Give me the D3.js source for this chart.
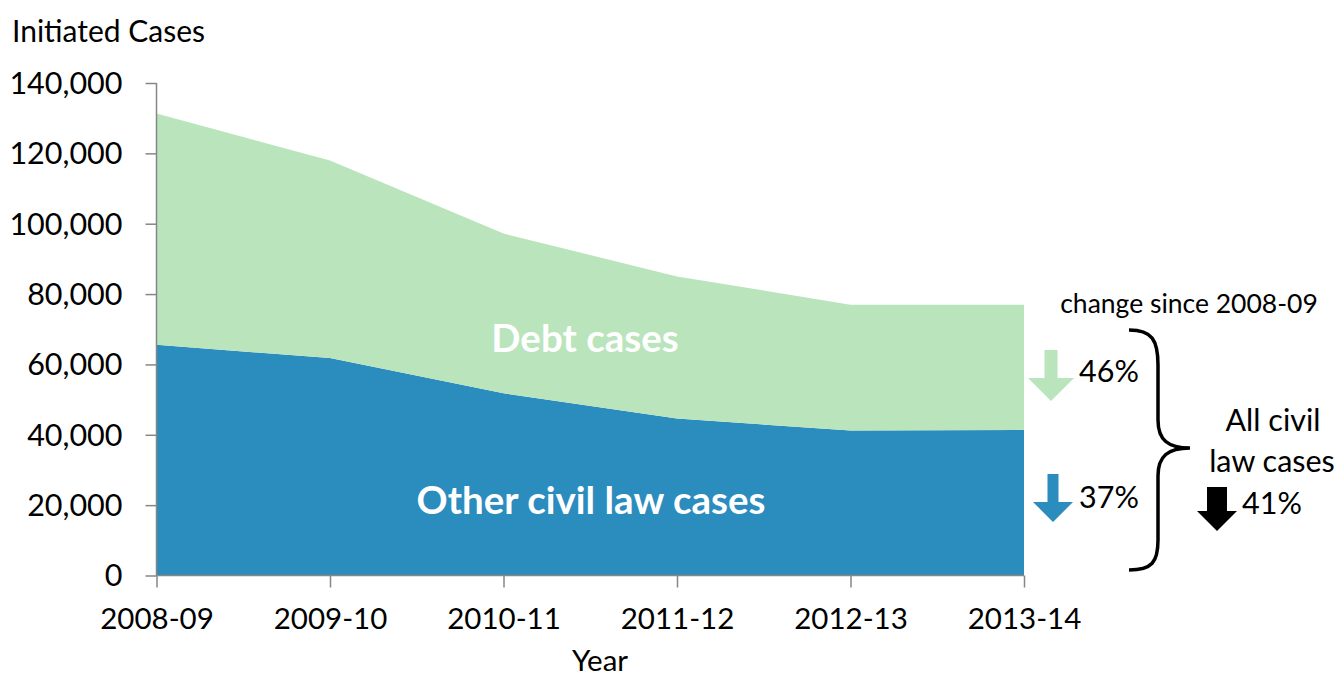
<!DOCTYPE html>
<html>
<head>
<meta charset="utf-8">
<script src="https://cdn.jsdelivr.net/npm/d3@7"></script>
<style>
  html, body { margin: 0; padding: 0; background: #fff; }
  svg { display: block; font-family: Lato, "Open Sans", sans-serif; }
</style>
</head>
<body>
<svg id="chart" width="1342" height="677"></svg>
<script>
const years = ["2008-09", "2009-10", "2010-11", "2011-12", "2012-13", "2013-14"];
const otherCases = [65600, 61800, 51800, 44600, 41200, 41400];
const debtCases = [65700, 56200, 45400, 40400, 35800, 35600];
const yTicks = [0, 20000, 40000, 60000, 80000, 100000, 120000, 140000];
const changeLabels = { debt: "46%", other: "37%", all: "41%" };

const colors = { other: "#2B8CBE", debt: "#BAE4BC", axis: "#868686" };

const svg = d3.select("#chart");
const x = d3.scalePoint().domain(years).range([156.5, 1024]);
const y = d3.scaleLinear().domain([0, 140000]).range([575.5, 83]);

const table = years.map((yr, i) => ({ year: yr, other: otherCases[i], debt: debtCases[i] }));
const stack = d3.stack().keys(["other", "debt"]);
const series = stack(table);

const area = d3.area()
  .x(d => x(d.data.year))
  .y0(d => y(d[0]))
  .y1(d => y(d[1]))
  .curve(d3.curveLinear);

svg.append("g").selectAll("path").data(series).join("path")
  .attr("d", area)
  .attr("fill", d => colors[d.key]);

// Y axis
const yAxis = d3.axisLeft(y).tickValues(yTicks).tickSize(11).tickPadding(23)
  .tickFormat(d3.format(","));
const gy = svg.append("g").attr("transform", "translate(156.5,0)").call(yAxis);
gy.select(".domain").attr("stroke", colors.axis).attr("stroke-width", 1.5).attr("d", "M0,83V575.5");
gy.selectAll(".tick line").attr("stroke", colors.axis).attr("stroke-width", 1.5);
gy.selectAll(".tick text").attr("font-size", 30.5).attr("fill", "#000")
  .attr("font-family", "Lato, sans-serif").attr("dy", "0.34em");

// X axis
const xAxis = d3.axisBottom(x).tickSize(12).tickPadding(21);
const gx = svg.append("g").attr("transform", "translate(0,575.5)").call(xAxis);
gx.select(".domain").attr("stroke", colors.axis).attr("stroke-width", 1.5).attr("d", "M156.5,0H1024");
gx.selectAll(".tick line").attr("stroke", colors.axis).attr("stroke-width", 1.5);
gx.selectAll(".tick text").attr("font-size", 29.5).attr("fill", "#000")
  .attr("font-family", "Lato, sans-serif");

// Axis titles
svg.append("text").attr("x", 12).attr("y", 42).attr("font-size", 30).text("Initiated Cases");
svg.append("text").attr("x", 600).attr("y", 671).attr("text-anchor", "middle").attr("font-size", 29.5).text("Year");

// Series labels
svg.append("text").attr("x", 585).attr("y", 352).attr("text-anchor", "middle")
  .attr("font-size", 38.5).attr("font-weight", "bold").attr("fill", "#fff").text("Debt cases");
svg.append("text").attr("x", 591).attr("y", 514).attr("text-anchor", "middle")
  .attr("font-size", 38.5).attr("font-weight", "bold").attr("fill", "#fff").text("Other civil law cases");

// Change annotations
svg.append("text").attr("x", 1189).attr("y", 313).attr("text-anchor", "middle")
  .attr("font-size", 26.5).text("change since 2008-09");

function arrow(cx, top, headTop, tip, shaftHalf, headHalf, fill) {
  const pts = [
    [cx - shaftHalf, top], [cx + shaftHalf, top], [cx + shaftHalf, headTop],
    [cx + headHalf, headTop], [cx, tip], [cx - headHalf, headTop], [cx - shaftHalf, headTop]
  ];
  svg.append("polygon").attr("points", pts.map(p => p.join(",")).join(" ")).attr("fill", fill);
}
arrow(1051, 350, 378, 401, 6.5, 23, colors.debt);
arrow(1053, 474, 502, 522, 5.5, 20, colors.other);
arrow(1217, 487, 511, 531, 10, 20, "#000");

svg.append("text").attr("x", 1079).attr("y", 382).attr("font-size", 30.5).text(changeLabels.debt);
svg.append("text").attr("x", 1079).attr("y", 508).attr("font-size", 30.5).text(changeLabels.other);
svg.append("text").attr("x", 1242).attr("y", 514).attr("font-size", 30.5).text(changeLabels.all);

svg.append("text").attr("x", 1273).attr("y", 431).attr("text-anchor", "middle").attr("font-size", 30.5).text("All civil");
svg.append("text").attr("x", 1272).attr("y", 472).attr("text-anchor", "middle").attr("font-size", 30.5).text("law cases");

// Brace
svg.append("path")
  .attr("d", "M1129,330 C1152,330 1158,340 1158,365 L1158,420 C1158,440 1168,448 1190,448 C1168,448 1158,456 1158,476 L1158,540 C1158,562 1152,570 1129,570")
  .attr("fill", "none").attr("stroke", "#000").attr("stroke-width", 3.5);
</script>
</body>
</html>
